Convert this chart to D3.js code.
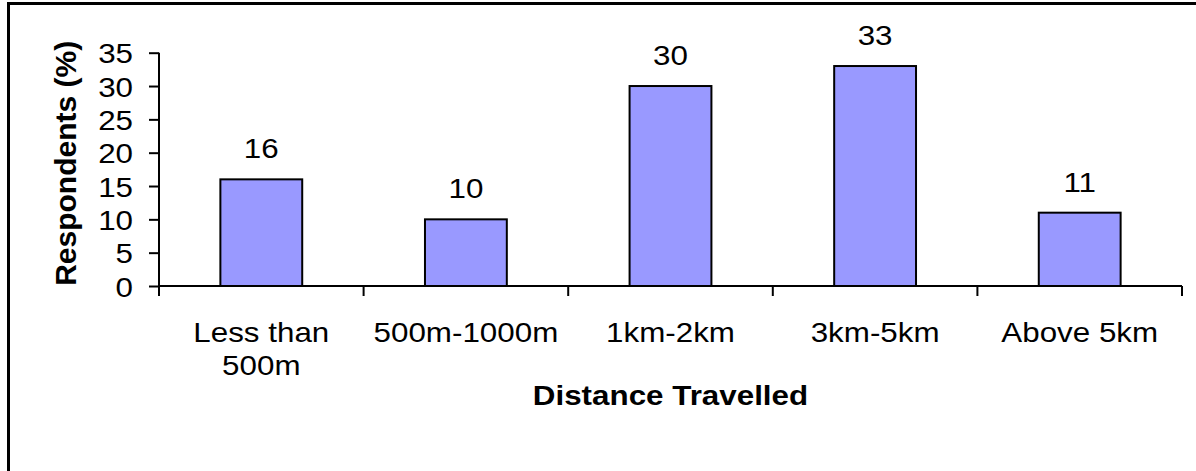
<!DOCTYPE html>
<html>
<head>
<meta charset="utf-8">
<script src="https://cdn.jsdelivr.net/npm/d3@7"></script>
<style>
  html, body { margin: 0; padding: 0; background: #fff; }
  svg { display: block; font-family: Arial, "Liberation Sans", sans-serif; }
</style>
</head>
<body>
<script>
// Share of respondents by distance travelled
const categories = [["Less than", "500m"], ["500m-1000m"], ["1km-2km"], ["3km-5km"], ["Above 5km"]];
const values = [16, 10, 30, 33, 11];
const yTicks = [0, 5, 10, 15, 20, 25, 30, 35];
const yTitle = "Respondents (%)";
const xTitle = "Distance Travelled";

const W = 1196, H = 471;
const FS = 28;      // label font size
const SX = 1.12;    // horizontal text stretch
const svg = d3.select("body").append("svg").attr("width", W).attr("height", H);

// chart frame (runs past the right and bottom edges)
svg.append("rect")
  .attr("x", 8.5).attr("y", 3.5)
  .attr("width", W + 20).attr("height", H + 20)
  .attr("fill", "#fff").attr("stroke", "#000").attr("stroke-width", 3);

const plot = { left: 159, right: 1182, top: 52.7, bottom: 286 };

const keys = categories.map((c, i) => i);
const x = d3.scaleBand().domain(keys).range([plot.left, plot.right]).paddingInner(0).paddingOuter(0);
const y = d3.scaleLinear().domain([0, 35]).range([plot.bottom, plot.top]);

const barW = x.bandwidth() * 0.4;

// bars
svg.append("g").selectAll("rect").data(values).join("rect")
  .attr("x", (d, i) => x(i) + (x.bandwidth() - barW) / 2)
  .attr("y", d => y(d))
  .attr("width", barW)
  .attr("height", d => y(0) - y(d))
  .attr("fill", "#9999FF")
  .attr("stroke", "#000")
  .attr("stroke-width", 2);

// value labels
svg.append("g").selectAll("text").data(values).join("text")
  .attr("transform", (d, i) => `translate(${x(i) + x.bandwidth() / 2},${y(d) - 21}) scale(${SX},1)`)
  .attr("text-anchor", "middle")
  .attr("font-size", FS)
  .attr("fill", "#000")
  .text(d => d);

// y axis
const yAxis = svg.append("g")
  .attr("transform", `translate(${plot.left},0)`)
  .call(d3.axisLeft(y).tickValues(yTicks).tickSize(10).tickFormat(d3.format("d")));
yAxis.attr("font-family", null);
yAxis.select(".domain").attr("stroke", "#000").attr("stroke-width", 2).attr("d", `M0,${plot.top}V${plot.bottom}`);
yAxis.selectAll(".tick line").attr("stroke", "#000").attr("stroke-width", 2);
yAxis.selectAll(".tick text")
  .attr("font-size", FS)
  .attr("fill", "#000")
  .attr("x", -26 / SX)
  .attr("dy", "0.36em")
  .attr("transform", `scale(${SX},1)`);

// x axis with ticks at category boundaries
const boundaries = d3.range(categories.length + 1).map(i => plot.left + i * x.bandwidth());
const xAxis = svg.append("g");
xAxis.append("line")
  .attr("x1", plot.left - 1).attr("x2", plot.right)
  .attr("y1", plot.bottom).attr("y2", plot.bottom)
  .attr("stroke", "#000").attr("stroke-width", 2);
xAxis.selectAll("line.tk").data(boundaries).join("line")
  .attr("class", "tk")
  .attr("x1", d => d).attr("x2", d => d)
  .attr("y1", plot.bottom).attr("y2", plot.bottom + 10)
  .attr("stroke", "#000").attr("stroke-width", 2);

// category labels
const catText = xAxis.selectAll("text").data(categories).join("text")
  .attr("transform", (d, i) => `translate(${x(i) + x.bandwidth() / 2},342) scale(${SX},1)`)
  .attr("text-anchor", "middle")
  .attr("font-size", FS)
  .attr("fill", "#000");
catText.selectAll("tspan").data(d => d).join("tspan")
  .attr("x", 0)
  .attr("dy", (d, i) => i === 0 ? 0 : 33)
  .text(d => d);

// axis titles
svg.append("text")
  .attr("transform", `translate(76,${(plot.top + plot.bottom) / 2 - 6}) rotate(-90)`)
  .attr("text-anchor", "middle")
  .attr("font-size", 30)
  .attr("font-weight", "bold")
  .attr("fill", "#000")
  .text(yTitle);

svg.append("text")
  .attr("transform", `translate(${(plot.left + plot.right) / 2},405) scale(${SX},1)`)
  .attr("text-anchor", "middle")
  .attr("font-size", 28)
  .attr("font-weight", "bold")
  .attr("fill", "#000")
  .text(xTitle);
</script>
</body>
</html>
